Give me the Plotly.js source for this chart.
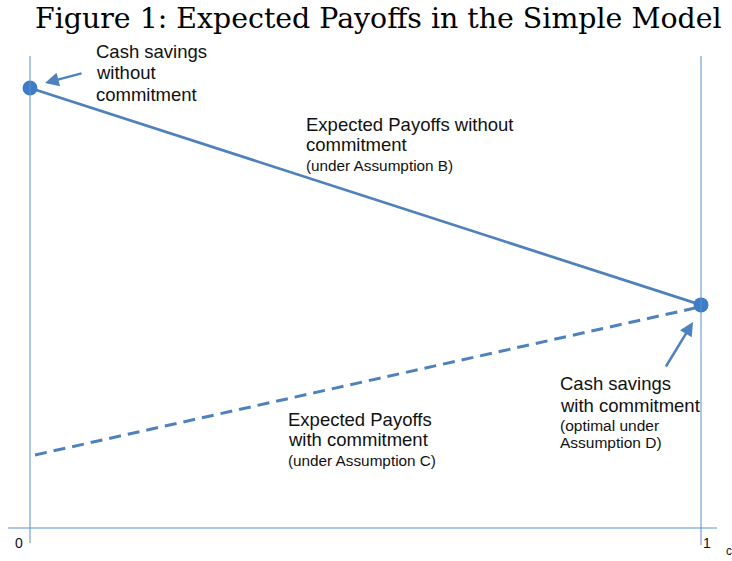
<!DOCTYPE html>
<html>
<head>
<meta charset="utf-8">
<script src="https://cdn.plot.ly/plotly-3.0.1.min.js"></script>
<style>html,body{margin:0;padding:0;background:#fff;}#chart{width:732px;height:561px;}</style>
</head>
<body>
<div id="chart"></div>
<script>
// ---- data ----
const shareX = [0, 1];                       // horizontal axis endpoints (0 .. 1)
const payoffWithout = [10, 5.07];            // Expected payoffs without commitment (Assumption B)
const dashX = [0.0075, 0.991];
const payoffWith = [1.66, 5.0];              // Expected payoffs with commitment (Assumption C)
const cashPointsX = [0, 1];
const cashPointsY = [10, 5.07];              // cash savings without / with commitment
const axisTickLabels = ["0", "1"];

const blue = '#4f81bd';
const axisBlue = '#5b8fd3';
const txt = '#111111';
const sans = 'Liberation Sans, Arial, sans-serif';

const traces = [
  {x: shareX, y: payoffWithout, mode: 'lines', line: {color: blue, width: 2.75}, hoverinfo: 'skip'},
  {x: dashX, y: payoffWith, mode: 'lines', line: {color: blue, width: 3, dash: '12px,7px'}, hoverinfo: 'skip'},
  {x: cashPointsX, y: cashPointsY, mode: 'markers', marker: {color: '#3f7cc6', size: 15, line: {width: 0}}, hoverinfo: 'skip'}
];

function line(x, y, text, size) {
  return {x: x, y: y, xref: 'x', yref: 'y', text: text, showarrow: false, xanchor: 'left', yanchor: 'middle',
          borderpad: 0, font: {family: sans, size: size, color: txt}};
}
// helpers converting pixel positions to axis values (text placement only)
const py = p => (528 - p) / 44;
const px = p => (p - 30) / 671;

const annotations = [
  {xref: 'paper', yref: 'paper', x: 378.5 / 732, y: 1 - 18 / 561, text: 'Figure 1: Expected Payoffs in the Simple Model',
   showarrow: false, xanchor: 'center', yanchor: 'middle', font: {family: 'DejaVu Serif, serif', size: 28.4, color: '#000'}},
  line(px(95), py(51.5), 'Cash savings', 18.5),
  line(px(95), py(72.5), 'without', 18.5),
  line(px(95), py(94.5), 'commitment', 18.5),
  line(px(305), py(124.5), 'Expected Payoffs without', 18.5),
  line(px(305), py(144.5), 'commitment', 18.5),
  line(px(305), py(165.4), '(under Assumption B)', 15.3),
  line(px(559), py(383.5), 'Cash savings', 18.5),
  line(px(559), py(405.5), 'with commitment', 18.5),
  line(px(559), py(425), '(optimal under', 15.5),
  line(px(559), py(442), 'Assumption D)', 15.5),
  line(px(287), py(419.5), 'Expected Payoffs', 18.5),
  line(px(287), py(439.5), 'with commitment', 18.5),
  line(px(287), py(460.4), '(under Assumption C)', 15.3),
  // axis labels
  {x: px(19), y: py(543), xref: 'x', yref: 'y', text: axisTickLabels[0], showarrow: false, font: {family: sans, size: 14, color: txt}},
  {x: px(707), y: py(543), xref: 'x', yref: 'y', text: axisTickLabels[1], showarrow: false, font: {family: sans, size: 14, color: txt}},
  {x: px(725), y: py(551), xref: 'x', yref: 'y', text: 'c', showarrow: false, xanchor: 'left', borderpad: 0, font: {family: sans, size: 12, color: txt}},
  // arrows
  {x: px(45), y: py(83), ax: px(83), ay: py(73), xref: 'x', yref: 'y', axref: 'x', ayref: 'y', text: '', showarrow: true,
   arrowhead: 2, arrowsize: 1.1, arrowwidth: 2.5, arrowcolor: blue},
  {x: px(693), y: py(322), ax: px(665), ay: py(368), xref: 'x', yref: 'y', axref: 'x', ayref: 'y', text: '', showarrow: true,
   arrowhead: 2, arrowsize: 1.1, arrowwidth: 2.5, arrowcolor: blue}
];

const shapes = [
  {type: 'line', xref: 'x', yref: 'y', x0: 0, x1: 0, y0: py(56), y1: py(543), line: {color: axisBlue, width: 1}},
  {type: 'line', xref: 'x', yref: 'y', x0: 1, x1: 1, y0: py(56), y1: py(545), line: {color: axisBlue, width: 1}},
  {type: 'line', xref: 'x', yref: 'y', x0: px(8), x1: px(717), y0: 0, y1: 0, line: {color: axisBlue, width: 1}}
];

const layout = {
  width: 732, height: 561,
  margin: {l: 0, r: 0, t: 0, b: 0},
  paper_bgcolor: '#fff', plot_bgcolor: '#fff',
  showlegend: false,
  xaxis: {range: [-30 / 671, 1 + 31 / 671], visible: false, fixedrange: true},
  yaxis: {range: [-33 / 44, 12], visible: false, fixedrange: true},
  shapes: shapes,
  annotations: annotations
};

Plotly.newPlot('chart', traces, layout, {displayModeBar: false, staticPlot: true});
</script>
</body>
</html>
